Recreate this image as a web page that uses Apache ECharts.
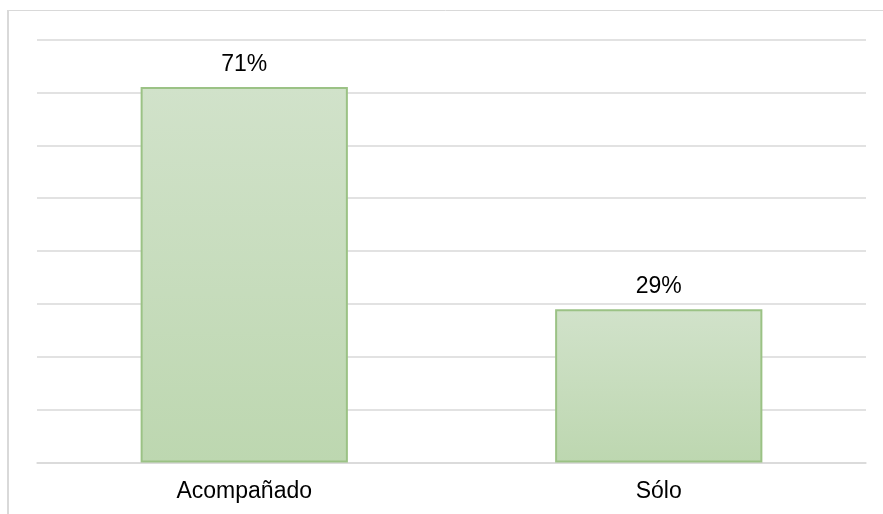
<!DOCTYPE html>
<html>
<head>
<meta charset="utf-8">
<script src="https://cdn.jsdelivr.net/npm/echarts@6/dist/echarts.min.js"></script>
<style>
  html, body { margin: 0; padding: 0; background: #fff; }
  #chart { width: 883px; height: 514px; }
</style>
</head>
<body>
<div id="chart"></div>
<script>
const categories = ["Acompañado", "Sólo"];
const values = [71, 29];

const chart = echarts.init(document.getElementById("chart"), null, { renderer: "canvas" });
chart.setOption({
  animation: false,
  grid: { left: 37, right: 17, top: 39.5, bottom: 51.5 },
  graphic: [
    { type: "line", shape: { x1: 8, y1: 10, x2: 8, y2: 514 }, style: { stroke: "#d9d9d9", lineWidth: 2 } },
    { type: "line", shape: { x1: 8, y1: 10.5, x2: 883, y2: 10.5 }, style: { stroke: "#d9d9d9", lineWidth: 1 } }
  ],
  xAxis: {
    type: "category",
    data: categories,
    axisTick: { show: false },
    axisLine: { lineStyle: { color: "#d9d9d9", width: 1.5 } },
    axisLabel: { color: "#000", fontFamily: "Liberation Sans", fontSize: 23, margin: 18 }
  },
  yAxis: {
    type: "value",
    min: 0,
    max: 80,
    interval: 10,
    axisLabel: { show: false },
    axisLine: { show: false },
    axisTick: { show: false },
    splitLine: { lineStyle: { color: "#d9d9d9", width: 1.5 } }
  },
  series: [{
    type: "bar",
    data: values,
    barWidth: "50%",
    itemStyle: {
      color: new echarts.graphic.LinearGradient(0, 0, 0, 1, [
        { offset: 0, color: "#d1e2ca" },
        { offset: 1, color: "#bdd7b0" }
      ]),
      borderColor: "#9bc285",
      borderWidth: 2
    },
    label: {
      show: true,
      position: "top",
      distance: 11,
      formatter: "{c}%",
      color: "#000",
      fontFamily: "Liberation Sans",
      fontSize: 23
    }
  }]
});
</script>
</body>
</html>
